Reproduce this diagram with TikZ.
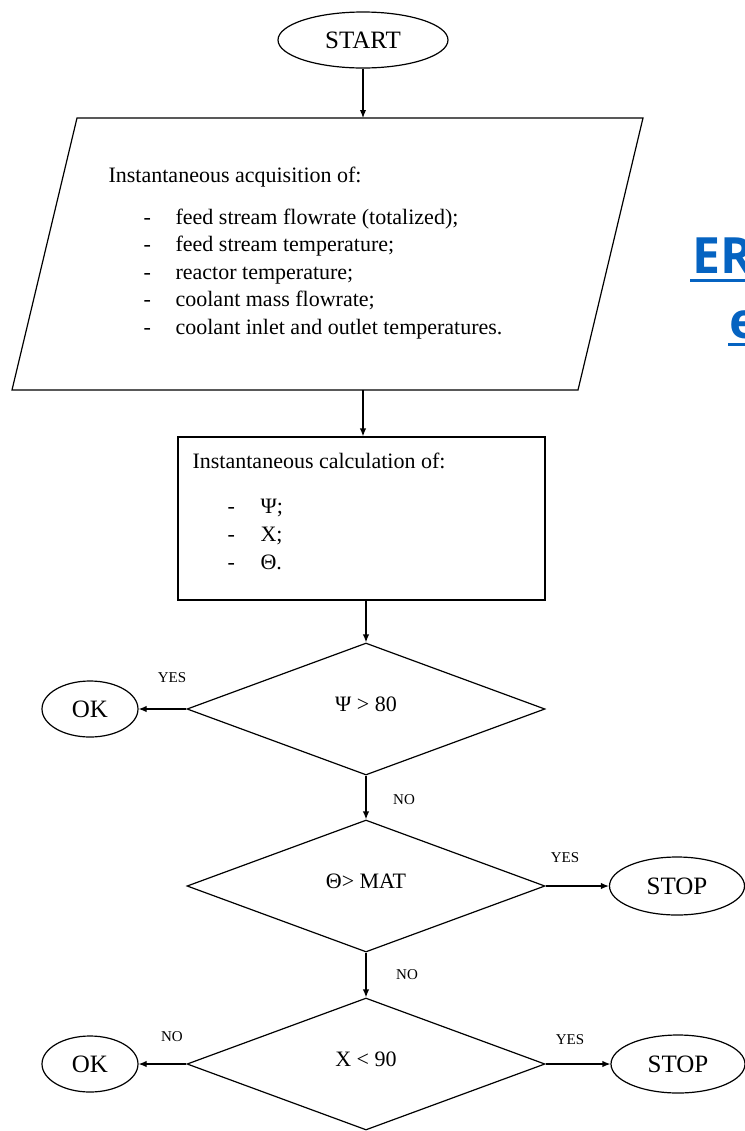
\documentclass[tikz,border=0pt]{standalone}
\usepackage{fontspec}
\setmainfont{Liberation Serif}
\newfontfamily\linkfont{Open Sans}
\usetikzlibrary{shapes.geometric}
\usetikzlibrary{positioning}
\usetikzlibrary{arrows.meta}
\tikzstyle{line} = [draw, -{Latex[length=4pt,width=3.2pt]}]
\definecolor{linkblue}{HTML}{0563C1}

\begin{document}
\begin{tikzpicture}[x=0.5pt, y=-0.5pt, semithick,
				term/.style = {ellipse, draw, inner sep=0pt,
					font=\fontsize{12.5}{14}\selectfont},
				decision/.style = {diamond, draw, inner sep=0pt,
					minimum width=179pt, minimum height=66pt, text depth=5pt,
					font=\fontsize{11}{13}\selectfont},
				answer/.style = {font=\fontsize{7.5}{9}\selectfont},
				item/.style = {anchor=base west, inner sep=0pt,
					font=\fontsize{11}{13}\selectfont}]
				
				\clip (0,0) rectangle (745,1131);
				
				% Start
				\node[term, minimum width=85pt, minimum height=28pt] (start) at (363,40) {START};
				
				% Acquisition (parallelogram)
				\draw (77,118) -- (643,118) -- (578,390) -- (12,390) -- cycle;
				\coordinate (acqtop) at (363,118);
				\coordinate (acqbot) at (363,390);
				\node[item] (acq) at (108,182) {Instantaneous acquisition of:};
				\foreach \txt [count=\i] in {{feed stream flowrate (totalized);},
					{feed stream temperature;}, {reactor temperature;},
					{coolant mass flowrate;}, {coolant inlet and outlet temperatures.}}
				{
					\node[item] (acqdash\i) at (143,196.5+27.5*\i) {-};
					\node[item] (acq\i) at (175,196.5+27.5*\i) {\txt};
				}
				
				% Calculation
				\node[draw, minimum width=183.5pt, minimum height=81.5pt] (calc) at (361.5,518.5) {};
				\node[item] (calctitle) at (192,468) {Instantaneous calculation of:};
				\foreach \sym [count=\i] in {Ψ;, X;, Θ.}
				{
					\node[item] (calcdash\i) at (227,485+28*\i) {-};
					\node[item] (calc\i) at (260,485+28*\i) {\sym};
				}
				
				% Decisions
				\node[decision] (psi) at (366,709) {Ψ > 80};
				\node[decision] (theta) at (366,886) {Θ> MAT};
				\node[decision] (conv) at (366,1064) {X < 90};
				
				% Ends
				\node[term, minimum width=48pt, minimum height=28pt] (ok1) at (90,709) {OK};
				\node[term, minimum width=67.5pt, minimum height=29pt] (stop1) at (677,886) {STOP};
				\node[term, minimum width=48pt, minimum height=28pt] (ok2) at (90,1064) {OK};
				\node[term, minimum width=67pt, minimum height=29pt] (stop2) at (678,1064) {STOP};
				
				% Connectors
				\path[line] (start) -- (acqtop);
				\path[line] (acqbot) -- (calc.north -| acqbot);
				\path[line] (calc.south -| psi.north) -- (psi.north);
				\path[line] (psi.west) -- (ok1.east);
				\path[line] (psi.south) -- (theta.north);
				\path[line] (theta.east) -- (stop1.west);
				\path[line] (theta.south) -- (conv.north);
				\path[line] (conv.west) -- (ok2.east);
				\path[line] (conv.east) -- (stop2.west);
				
				% Answers
				\node[answer] (yes1) at (172,678) {YES};
				\node[answer] (no1) at (404,800) {NO};
				\node[answer] (yes2) at (565,858) {YES};
				\node[answer] (no2) at (407,975) {NO};
				\node[answer] (no3) at (172,1037) {NO};
				\node[answer] (yes3) at (570,1040) {YES};
				
				% Link text at the right edge
				\node[anchor=base west, inner sep=0pt, text=linkblue,
					font=\linkfont\bfseries\fontsize{25}{30}\selectfont] (link1) at (692,273) {ER};
				\node[anchor=base west, inner sep=0pt, text=linkblue,
					font=\linkfont\bfseries\fontsize{25}{30}\selectfont] (link2) at (729,338) {e};
				\draw[linkblue, line width=1.5pt] (690,280) -- (745,280);
				\draw[linkblue, line width=1.5pt] (728,344) -- (745,344);
				
		\end{tikzpicture}
\end{document}
